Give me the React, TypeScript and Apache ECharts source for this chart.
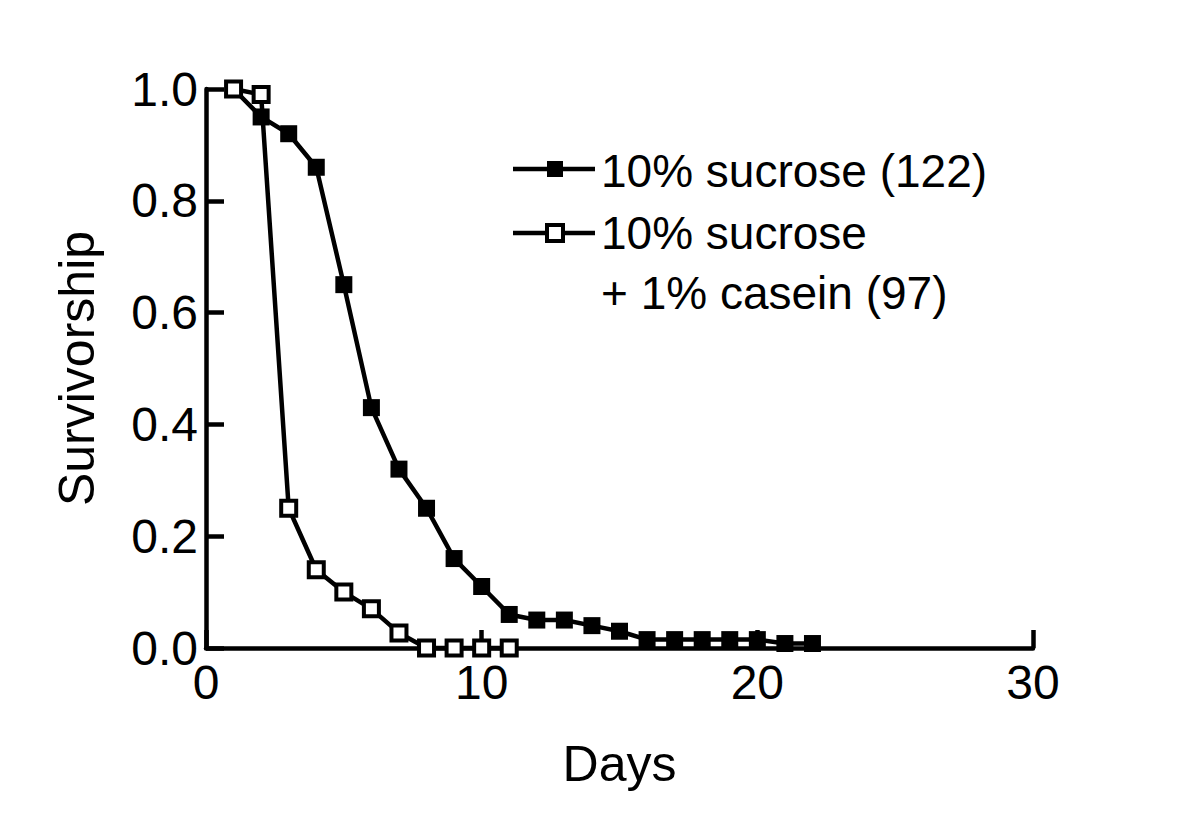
import React, { useEffect, useRef } from "react";
import * as echarts from "echarts";

const days = [1, 2, 3, 4, 5, 6, 7, 8, 9, 10, 11, 12, 13, 14, 15, 16, 17, 18, 19, 20, 21, 22];
const sucrose = [1.0, 0.95, 0.92, 0.86, 0.65, 0.43, 0.32, 0.25, 0.16, 0.11, 0.06, 0.05, 0.05, 0.04, 0.03, 0.015, 0.015, 0.015, 0.015, 0.015, 0.008, 0.008];
const caseinDays = [1, 2, 3, 4, 5, 6, 7, 8, 9, 10, 11];
const casein = [1.0, 0.99, 0.25, 0.14, 0.1, 0.07, 0.027, 0, 0, 0, 0];
const seriesNames = ["10% sucrose (122)", "10% sucrose\n+ 1% casein (97)"];
const xTicks = { min: 0, max: 30, interval: 10 };
const yTicks = { min: 0, max: 1, interval: 0.2 };

const FONT = "Liberation Sans, Arial, sans-serif";

export default function App() {
  const ref = useRef<HTMLDivElement>(null);
  useEffect(() => {
    if (!ref.current) return;
    const chart = echarts.init(ref.current, undefined, { renderer: "svg" });
    const axisCommon = {
      axisLine: { show: true, lineStyle: { color: "#000", width: 4.5 } },
      axisTick: { show: true, inside: true, length: 18, lineStyle: { color: "#000", width: 4.5 } },
      splitLine: { show: false },
    };
    chart.setOption({
      animation: false,
      backgroundColor: "#fff",
      grid: { left: 206, top: 89, width: 827, height: 559, containLabel: false },
      xAxis: {
        type: "value",
        ...xTicks,
        ...axisCommon,
        axisLabel: { color: "#000", fontSize: 48, fontFamily: FONT, margin: 10 },
        name: "Days",
        nameLocation: "middle",
        nameGap: 91,
        nameTextStyle: { color: "#000", fontSize: 50, fontFamily: FONT },
      },
      yAxis: {
        type: "value",
        ...yTicks,
        ...axisCommon,
        axisLabel: {
          color: "#000",
          fontSize: 48,
          fontFamily: FONT,
          margin: 8,
          formatter: (v: number) => v.toFixed(1),
        },
        name: "Survivorship",
        nameLocation: "middle",
        nameGap: 104,
        nameTextStyle: { color: "#000", fontSize: 50, fontFamily: FONT },
      },
      series: [
        {
          name: seriesNames[0],
          type: "line",
          data: days.map((d, i) => [d, sucrose[i]]),
          symbol: "rect",
          symbolSize: 17,
          clip: false,
          lineStyle: { color: "#000", width: 4.5 },
          itemStyle: { color: "#000", borderWidth: 0 },
          z: 2,
        },
        {
          name: seriesNames[1],
          type: "line",
          data: caseinDays.map((d, i) => [d, casein[i]]),
          symbol: "rect",
          symbolSize: 15,
          clip: false,
          lineStyle: { color: "#000", width: 4.5 },
          itemStyle: { color: "#fff", borderColor: "#000", borderWidth: 4 },
          z: 3,
        },
      ],
      graphic: [
        { type: "line", shape: { x1: 513, y1: 169, x2: 595, y2: 169 }, style: { stroke: "#000", lineWidth: 4.5 } },
        { type: "rect", shape: { x: 547, y: 161, width: 16, height: 16 }, style: { fill: "#000" } },
        {
          type: "text",
          x: 601,
          y: 171,
          style: { text: seriesNames[0], fontSize: 46, fontFamily: FONT, fill: "#000", verticalAlign: "middle" },
        },
        { type: "line", shape: { x1: 513, y1: 233, x2: 595, y2: 233 }, style: { stroke: "#000", lineWidth: 4.5 } },
        { type: "rect", shape: { x: 547, y: 225, width: 16, height: 16 }, style: { fill: "#fff", stroke: "#000", lineWidth: 4 } },
        {
          type: "text",
          x: 601,
          y: 203,
          style: { text: seriesNames[1], fontSize: 46, lineHeight: 60, fontFamily: FONT, fill: "#000", verticalAlign: "top" },
        },
      ],
    });
    return () => chart.dispose();
  }, []);
  return <div ref={ref} style={{ width: 1200, height: 836, margin: -8 }} />;
}
